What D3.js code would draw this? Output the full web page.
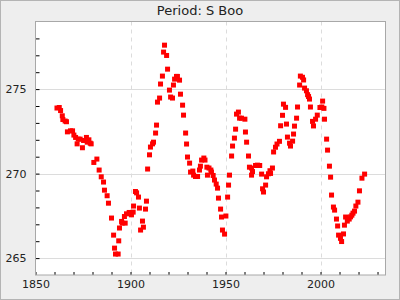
<!DOCTYPE html>
<html lang="en">
<head>
<meta charset="utf-8">
<title>Period: S Boo</title>
<script src="https://cdn.jsdelivr.net/npm/d3@7"></script>
<style>
  body { margin: 0; background: #eeeeee; }
  svg { display: block; font-family: "DejaVu Sans", sans-serif; }
</style>
</head>
<body>
<script>
var years = [
  1861.3, 1862.5, 1863.2, 1864.1, 1864.4, 1865.6, 1866.3, 1866.8, 1868.4, 1869.5,
  1870.2, 1871.1, 1871.9, 1872.5, 1873.5, 1874.7, 1875.3, 1876.8, 1877.2, 1878.1,
  1878.8, 1879.3, 1880.7, 1882.3, 1883.5, 1884.6, 1885.8, 1886.3, 1887.7, 1888.4,
  1890.0, 1891.1, 1891.6, 1892.1, 1893.5, 1893.8, 1894.2, 1895.3, 1895.6, 1896.8,
  1897.2, 1897.9, 1899.3, 1900.5, 1901.4, 1901.6, 1902.6, 1903.2, 1904.2, 1904.7,
  1905.3, 1906.3, 1906.8, 1907.9, 1908.4, 1909.0, 1910.0, 1910.5, 1911.6, 1912.1,
  1913.2, 1913.7, 1914.2, 1915.3, 1915.8, 1916.8, 1917.4, 1917.9, 1919.0, 1919.5,
  1920.5, 1921.1, 1922.1, 1922.6, 1923.2, 1924.2, 1924.7, 1925.8, 1926.3, 1927.4,
  1927.9, 1929.0, 1929.5, 1930.0, 1931.1, 1931.6, 1932.8, 1933.2, 1934.2, 1935.3,
  1936.3, 1936.8, 1937.4, 1938.6, 1939.2, 1940.2, 1940.5, 1941.3, 1942.3, 1942.6,
  1943.5, 1944.2, 1945.1, 1945.8, 1946.3, 1947.4, 1947.9, 1948.4, 1949.5, 1950.2,
  1951.1, 1951.6, 1952.1, 1953.2, 1953.7, 1954.7, 1955.3, 1955.8, 1956.8, 1957.4,
  1958.4, 1960.2, 1960.5, 1961.1, 1962.1, 1962.6, 1963.7, 1964.2, 1963.7, 1965.8,
  1966.8, 1968.0, 1969.0, 1969.5, 1970.0, 1971.1, 1971.6, 1972.6, 1973.4, 1973.7,
  1974.7, 1975.3, 1976.3, 1977.1, 1978.4, 1979.0, 1980.0, 1980.5, 1981.6, 1982.1,
  1982.6, 1983.7, 1984.2, 1985.3, 1985.8, 1986.3, 1987.4, 1987.9, 1989.0, 1989.4,
  1990.5, 1991.1, 1991.6, 1992.6, 1993.2, 1993.7, 1994.2, 1994.7, 1995.8, 1996.3,
  1997.4, 1998.3, 1999.7, 2000.7, 2001.1, 2001.8, 2002.1, 2003.2, 2003.7, 2004.7,
  2005.3, 2005.8, 2006.8, 2007.4, 2008.4, 2009.0, 2009.5, 2010.5, 2011.1, 2012.1,
  2012.6, 2013.2, 2014.1, 2015.1, 2015.8, 2016.5, 2017.1, 2017.9, 2018.6, 2019.7,
  2020.5, 2021.8, 2023.2
];
var periods = [
  273.88, 273.91, 273.73, 273.42, 273.20, 273.11, 273.07, 272.47, 272.53, 272.53,
  272.28, 272.14, 271.76, 272.04, 272.04, 271.53, 271.96, 272.14, 271.86, 272.00,
  271.80, 271.76, 270.66, 270.86, 270.21, 269.81, 269.50, 269.02, 268.69, 268.25,
  267.37, 266.36, 265.59, 265.24, 265.24, 266.02, 266.78, 267.17, 267.07, 267.46,
  267.07, 267.62, 267.70, 267.56, 267.72, 268.08, 268.94, 268.86, 268.61, 267.96,
  266.66, 267.19, 266.83, 267.90, 268.37, 270.27, 271.11, 271.57, 271.76, 271.86,
  272.40, 272.87, 274.23, 274.47, 275.30, 275.77, 277.19, 277.60, 276.99, 276.18,
  274.94, 274.53, 274.47, 275.24, 275.59, 275.75, 275.75, 275.53, 274.70, 274.05,
  273.46, 272.40, 271.75, 270.98, 270.62, 270.09, 270.15, 269.91, 269.83, 269.83,
  270.21, 270.44, 270.80, 270.92, 270.80, 270.38, 269.91, 270.33, 270.21, 270.09,
  269.89, 269.62, 269.38, 269.14, 268.55, 267.90, 267.43, 266.66, 266.42, 267.49,
  268.61, 269.32, 269.91, 271.04, 271.63, 272.10, 272.63, 273.52, 273.64, 273.28,
  273.28, 273.22, 272.46, 271.86, 271.04, 270.38, 270.33, 270.12, 269.91, 270.48,
  270.50, 270.48, 269.97, 269.10, 268.91, 269.32, 269.81, 269.99, 270.17, 270.01,
  270.33, 271.28, 271.56, 271.75, 271.91, 272.83, 273.45, 274.11, 273.92, 272.93,
  272.16, 271.80, 271.63, 271.92, 272.34, 272.81, 273.28, 273.94, 275.24, 275.77,
  275.70, 275.54, 275.06, 274.90, 274.67, 274.56, 274.41, 273.94, 273.09, 272.82,
  273.22, 273.46, 273.91, 273.94, 274.29, 273.86, 273.22, 272.04, 271.39, 270.44,
  269.79, 268.73, 268.02, 267.84, 267.31, 266.90, 266.36, 266.17, 265.98, 266.43,
  266.95, 267.43, 267.19, 267.31, 267.44, 267.54, 267.66, 267.78, 268.08, 268.31,
  268.98, 269.73, 269.97
];
var xTicks = [1850, 1900, 1950, 2000];
var yTicks = [265, 270, 275];

var w = 400, h = 300;
var plotLeft = 35.5, plotRight = 385.5, plotTop = 21.5, plotBottom = 275;

var svg = d3.select('body').append('svg')
            .attr('width', w)
            .attr('height', h);

svg.append('rect')
   .attr('x', 0.5).attr('y', 0.5)
   .attr('width', w - 1).attr('height', h - 1)
   .attr('fill', '#eeeeee')
   .attr('stroke', '#b4b4b4');

var xScale = d3.scaleLinear()
               .domain([1850, 2034.2])
               .range([plotLeft, plotRight]);
var yScale = d3.scaleLinear()
               .domain([264, 279])
               .range([plotBottom, plotTop]);

svg.append('rect')
   .attr('x', plotLeft).attr('y', plotTop)
   .attr('width', plotRight - plotLeft).attr('height', plotBottom - plotTop)
   .attr('fill', 'white');

// grid lines
svg.selectAll('.hgrid')
   .data(yTicks)
   .enter()
   .append('line')
   .attr('x1', plotLeft).attr('x2', plotRight)
   .attr('y1', function(d) { return Math.round(yScale(d)) + 0.5; })
   .attr('y2', function(d) { return Math.round(yScale(d)) + 0.5; })
   .attr('stroke', '#dcdcdc');

svg.selectAll('.vgrid')
   .data(xTicks.slice(1))
   .enter()
   .append('line')
   .attr('x1', function(d) { return Math.round(xScale(d)) + 0.5; })
   .attr('x2', function(d) { return Math.round(xScale(d)) + 0.5; })
   .attr('y1', plotTop).attr('y2', plotBottom)
   .attr('stroke', '#dcdcdc')
   .attr('stroke-dasharray', '4,4');

// inward axes with minor ticks
var xAxis = d3.axisBottom(xScale)
              .tickValues(d3.range(1850, 2031, 10))
              .tickSizeInner(-3).tickSizeOuter(0)
              .tickFormat(function(d) { return xTicks.indexOf(d) >= 0 ? d : ''; });
var yAxis = d3.axisLeft(yScale)
              .tickValues(d3.range(265, 279, 1))
              .tickSizeInner(-4).tickSizeOuter(0)
              .tickFormat(function(d) { return yTicks.indexOf(d) >= 0 ? d : ''; });

var gx = svg.append('g')
            .attr('transform', 'translate(0,' + plotBottom + ')')
            .call(xAxis);
var gy = svg.append('g')
            .attr('transform', 'translate(' + plotLeft + ',0)')
            .call(yAxis);

gx.select('.domain').remove();
gy.select('.domain').remove();
gx.selectAll('text').attr('y', 5).attr('dy', '0.71em')
  .attr('font-size', '11px').attr('font-family', 'DejaVu Sans').attr('fill', '#222');
gy.selectAll('text').attr('x', -9)
  .attr('font-size', '11px').attr('font-family', 'DejaVu Sans').attr('fill', '#222');

// plot border
svg.append('rect')
   .attr('x', plotLeft).attr('y', plotTop)
   .attr('width', plotRight - plotLeft).attr('height', plotBottom - plotTop)
   .attr('fill', 'none')
   .attr('stroke', '#a8a8a8');

// points
svg.selectAll('.pt')
   .data(years)
   .enter()
   .append('rect')
   .attr('class', 'pt')
   .attr('x', function(d) { return xScale(d) - 2.5; })
   .attr('y', function(d, i) { return yScale(periods[i]) - 2.5; })
   .attr('width', 5)
   .attr('height', 5)
   .attr('fill', '#ff0000');

svg.append('text')
   .attr('x', 200)
   .attr('y', 15)
   .attr('text-anchor', 'middle')
   .attr('font-size', '13px')
   .attr('fill', '#222')
   .text('Period: S Boo');
</script>
</body>
</html>
